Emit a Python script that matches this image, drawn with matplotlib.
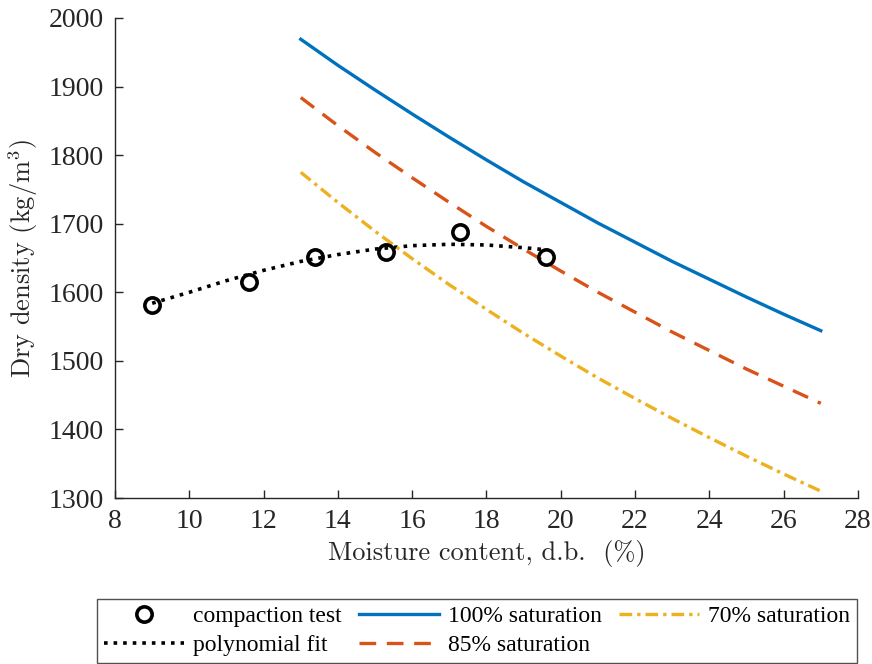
import matplotlib
matplotlib.use("Agg")
import matplotlib.pyplot as plt

# compaction test points
test_moisture = [9.0, 11.6, 13.38, 15.29, 17.29, 19.6]
test_density = [1582, 1615, 1651, 1659, 1688, 1651]

# polynomial fit
fit_moisture = [9.0, 10, 11, 12, 13, 14, 15, 16, 17, 18, 19, 19.6]
fit_density = [1584, 1600, 1617, 1632, 1645, 1655, 1663, 1668, 1670, 1669, 1665, 1662]

# saturation lines
sat_moisture = [13, 14, 15, 16, 17, 18, 19, 20, 21, 22, 23, 24, 25, 26, 27]
sat_100 = [1969, 1931, 1895, 1860, 1826, 1793, 1761, 1731, 1701, 1673, 1645, 1619, 1593, 1568, 1544]
sat_85 = [1884, 1843, 1804, 1767, 1731, 1696, 1663, 1631, 1600, 1571, 1542, 1515, 1488, 1463, 1438]
sat_70 = [1775, 1731, 1689, 1649, 1611, 1575, 1540, 1507, 1475, 1445, 1416, 1388, 1361, 1335, 1310]

x_ticks = list(range(8, 29, 2))
y_ticks = list(range(1300, 2001, 100))

plt.rcParams['mathtext.fontset'] = 'cm'
plt.rcParams['font.family'] = ['Liberation Serif', 'DejaVu Serif']

fig = plt.figure(figsize=(8.72, 6.64), dpi=100)
ax = fig.add_axes([0.1319, 0.25, 0.852, 0.7229])

l_test, = ax.plot(test_moisture, test_density, 'o', mfc='none', mec='black',
                  ms=11, mew=2.6, label='compaction test', zorder=5)
l_fit, = ax.plot(fit_moisture, fit_density, ':', color='black', lw=2.6,
                 label='polynomial fit')
l_100, = ax.plot(sat_moisture, sat_100, '-', color='#0072BD', lw=2.4,
                 label='100% saturation')
l_85, = ax.plot(sat_moisture, sat_85, color='#D95319', lw=2.4,
                dashes=(5, 3.2), label='85% saturation')
l_70, = ax.plot(sat_moisture, sat_70, color='#EDB120', lw=2.4,
                dashes=(3.8, 1.5, 1, 1.5), label='70% saturation')

ax.set_xlim(8, 28)
ax.set_ylim(1300, 2000)
ax.set_xticks(x_ticks)
ax.set_yticks(y_ticks)
ax.tick_params(direction='in', length=6, width=1, labelsize=20,
               colors='#262626', pad=8)
for side in ['top', 'right']:
    ax.spines[side].set_visible(False)
for side in ['left', 'bottom']:
    ax.spines[side].set_color('#262626')
    ax.spines[side].set_linewidth(1)

ax.set_xlabel('Moisture content, d.b.  (%)', family='cmr10', fontsize=19,
              color='#262626', labelpad=4)
ax.set_ylabel(r'Dry density (kg/$\mathrm{m}^3$)', family='cmr10', fontsize=19,
              color='#262626', labelpad=6)

leg = fig.legend(handles=[l_test, l_fit, l_100, l_85, l_70], ncol=3,
                 loc='lower left', bbox_to_anchor=(97 / 872, 1 / 664),
                 fontsize=17, frameon=True, fancybox=False,
                 edgecolor='#262626', handlelength=3.4, handletextpad=0.35,
                 columnspacing=0.75, borderaxespad=0, labelspacing=0.3,
                 borderpad=0.3)
leg.get_frame().set_linewidth(1)

fig.savefig('out.png', dpi=100)
